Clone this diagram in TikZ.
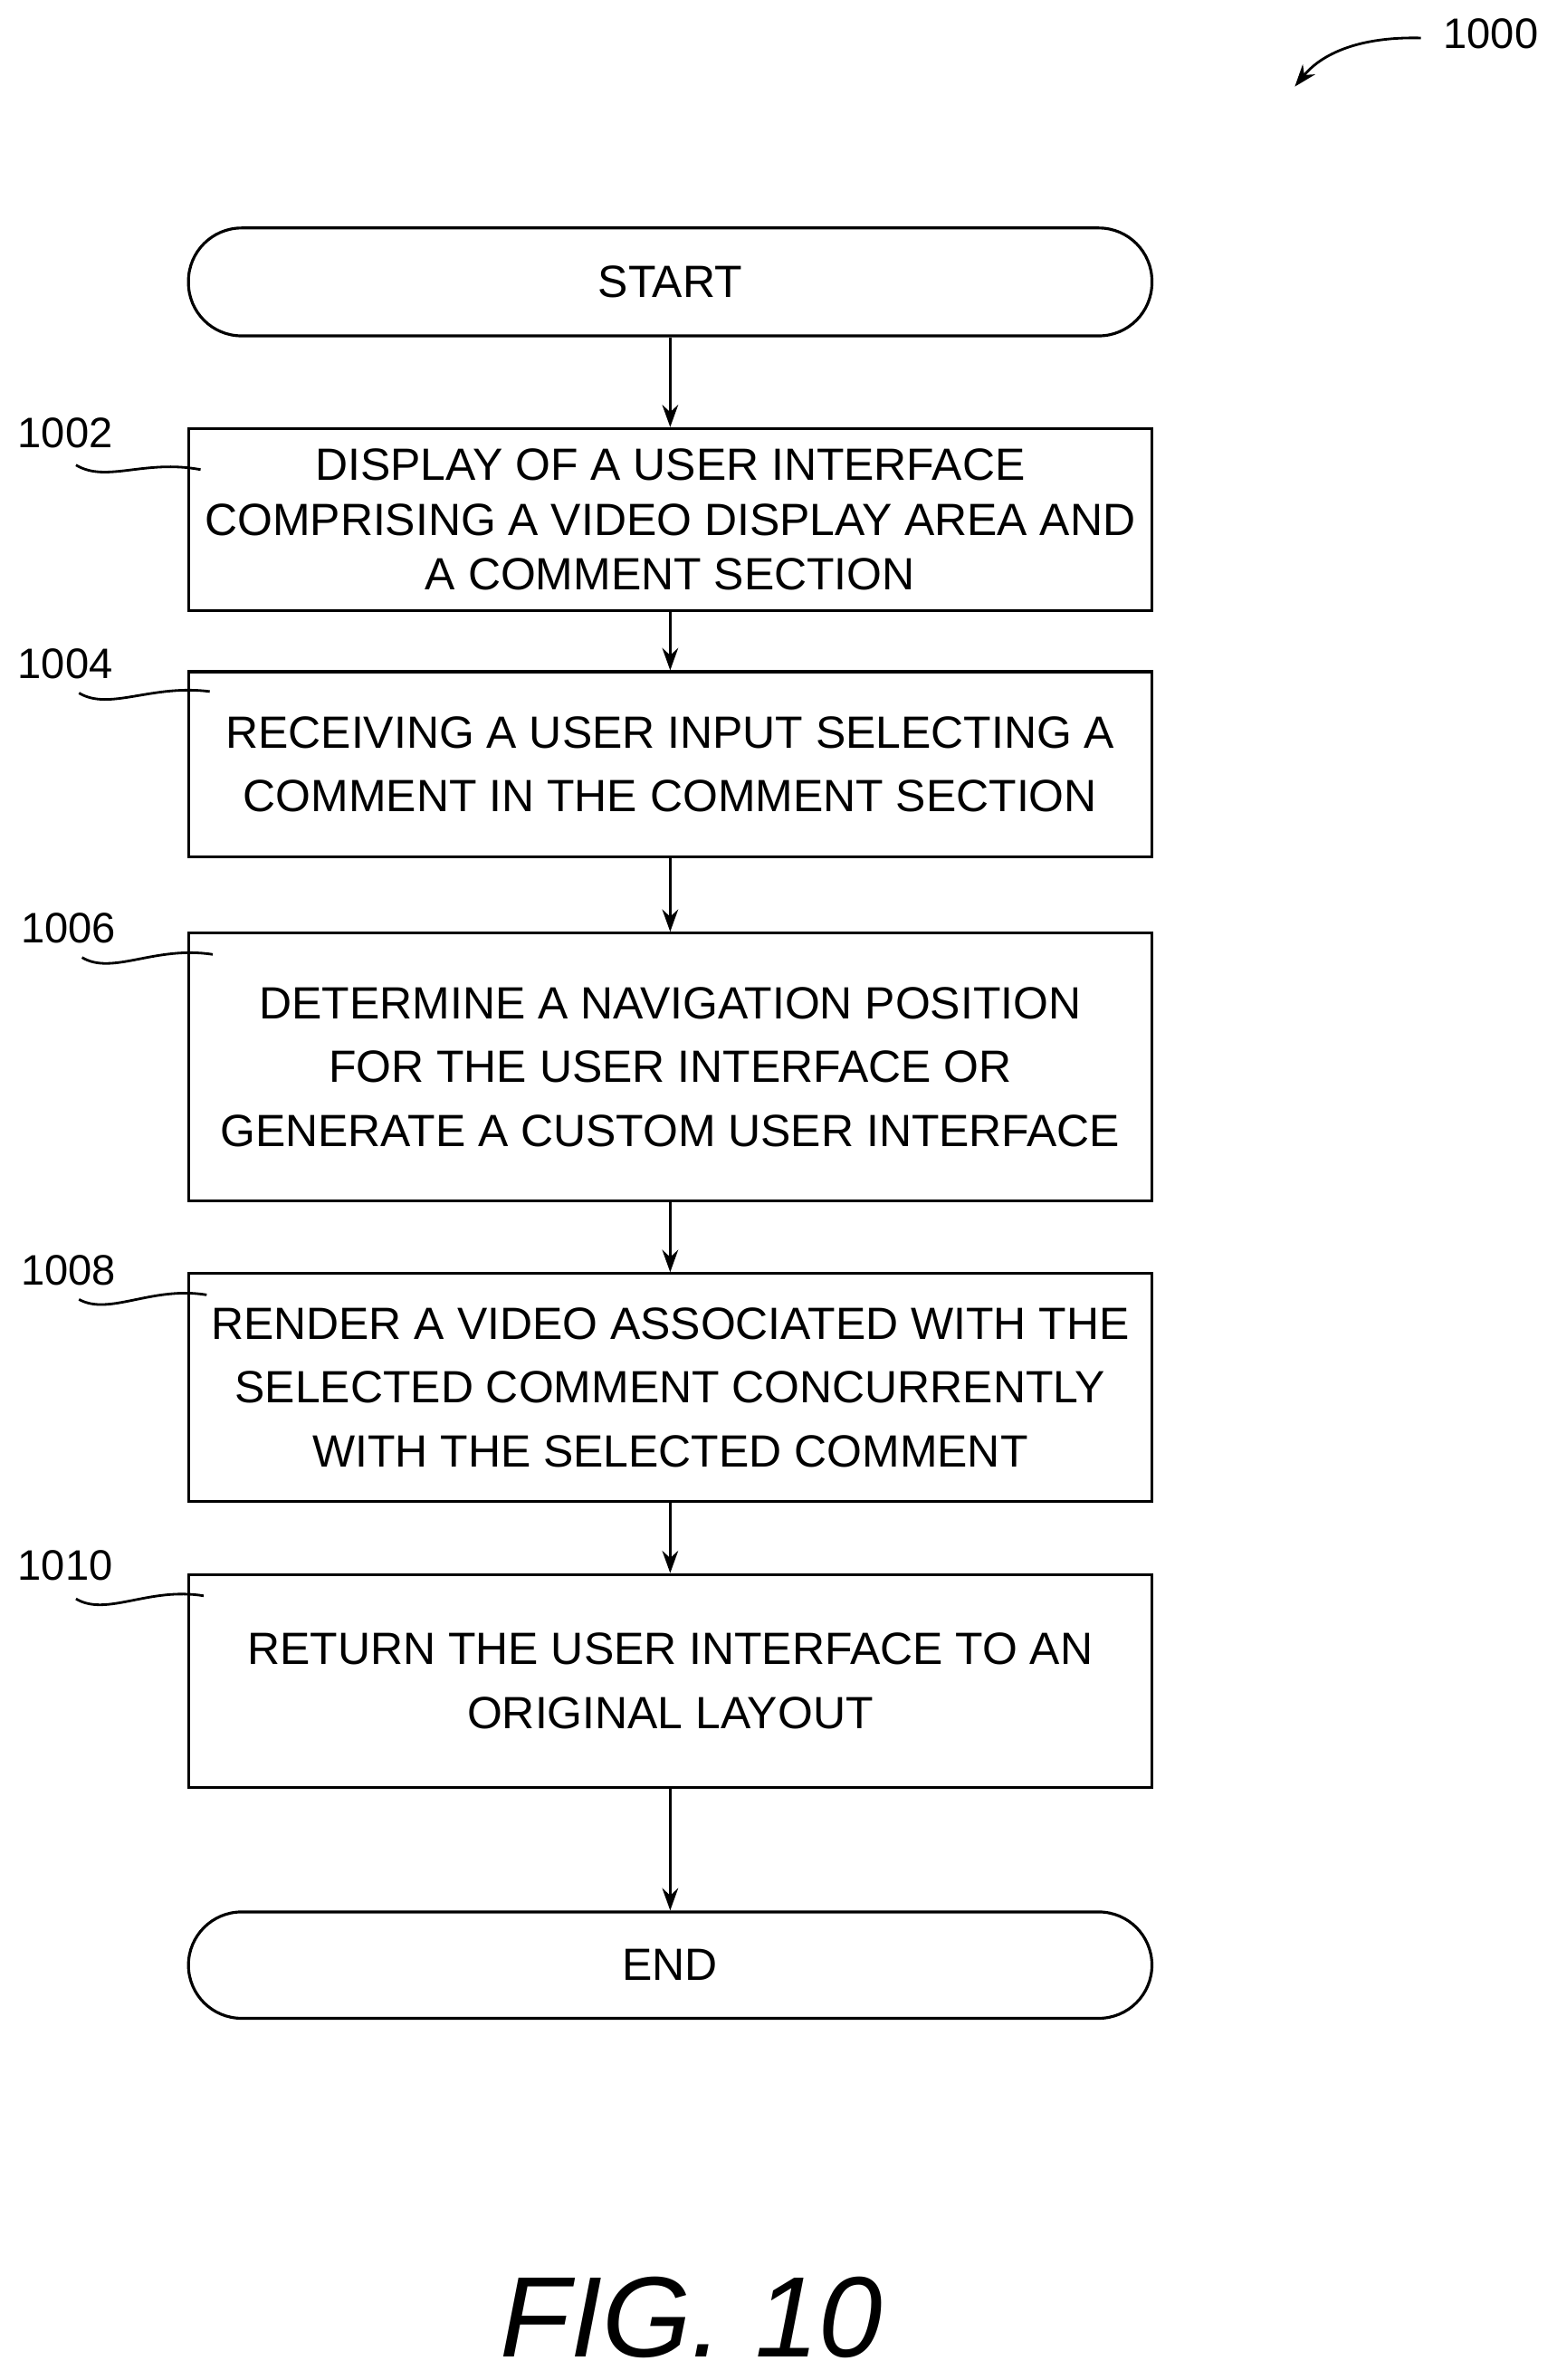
\documentclass[tikz,border=0pt]{standalone}
\usepackage{fontspec}
\setmainfont{Liberation Sans}
\usetikzlibrary{arrows.meta}
\begin{document}
\begin{tikzpicture}[x=0.01679cm,y=-0.01679cm,
  box/.style={draw,line width=0.9pt,minimum width=634*0.01679cm,inner sep=0pt,align=center,font=\fontsize{14.2}{20}\selectfont},
  pill/.style={box,rounded corners=35*0.01679cm},
  arr/.style={-{Stealth[length=7pt,width=5pt]},line width=0.9pt},
  lbl/.style={font=\fontsize{13.4}{16}\selectfont},
  lead/.style={line width=0.8pt}]
\useasboundingbox (0,0) rectangle (1024,1566);
\node[pill,minimum height=71*0.01679cm] (s) at (441,185.5) {START};
\node[box,minimum height=120*0.01679cm,font=\fontsize{14.2}{17.2}\selectfont] (b1) at (441,342) {DISPLAY OF A USER INTERFACE\\COMPRISING A VIDEO DISPLAY AREA AND\\A COMMENT SECTION};
\node[box,minimum height=122*0.01679cm] (b2) at (441,503) {RECEIVING A USER INPUT SELECTING A\\COMMENT IN THE COMMENT SECTION};
\node[box,minimum height=176*0.01679cm] (b3) at (441,702) {DETERMINE A NAVIGATION POSITION\\FOR THE USER INTERFACE OR\\GENERATE A CUSTOM USER INTERFACE};
\node[box,minimum height=150*0.01679cm] (b4) at (441,913) {RENDER A VIDEO ASSOCIATED WITH THE\\SELECTED COMMENT CONCURRENTLY\\WITH THE SELECTED COMMENT};
\node[box,minimum height=140*0.01679cm] (b5) at (441,1106) {RETURN THE USER INTERFACE TO AN\\ORIGINAL LAYOUT};
\node[pill,minimum height=70*0.01679cm] (e) at (441,1293) {END};
\draw[arr] (s) -- (b1);
\draw[arr] (b1) -- (b2);
\draw[arr] (b2) -- (b3);
\draw[arr] (b3) -- (b4);
\draw[arr] (b4) -- (b5);
\draw[arr] (b5) -- (e);
\node[lbl] (l1) at (43,285) {1002};
\node[lbl] (l2) at (43,437) {1004};
\node[lbl] (l3) at (45,611) {1006};
\node[lbl] (l4) at (45,836) {1008};
\node[lbl] (l5) at (43,1030) {1010};
\coordinate (c1) at (132,309);
\coordinate (c2) at (138,455);
\coordinate (c3) at (140,628);
\coordinate (c4) at (136,852);
\coordinate (c5) at (134,1050);
\draw[lead] (50,306) .. controls (70,318) and (95,302) .. (c1);
\draw[lead] (52,456) .. controls (72,468) and (100,450) .. (c2);
\draw[lead] (54,630) .. controls (74,642) and (102,622) .. (c3);
\draw[lead] (52,855) .. controls (72,866) and (100,846) .. (c4);
\draw[lead] (50,1052) .. controls (70,1064) and (98,1044) .. (c5);
\node[lbl] (n) at (981,22) {1000};
\coordinate (a) at (852,57);
\draw[lead,-{Stealth[length=7pt,width=5pt]}] (935,25) .. controls (895,24) and (870,35) .. (a);
\node[font=\itshape\fontsize{36}{42}\selectfont] (fig) at (455,1525) {FIG. 10};
\end{tikzpicture}
\end{document}
